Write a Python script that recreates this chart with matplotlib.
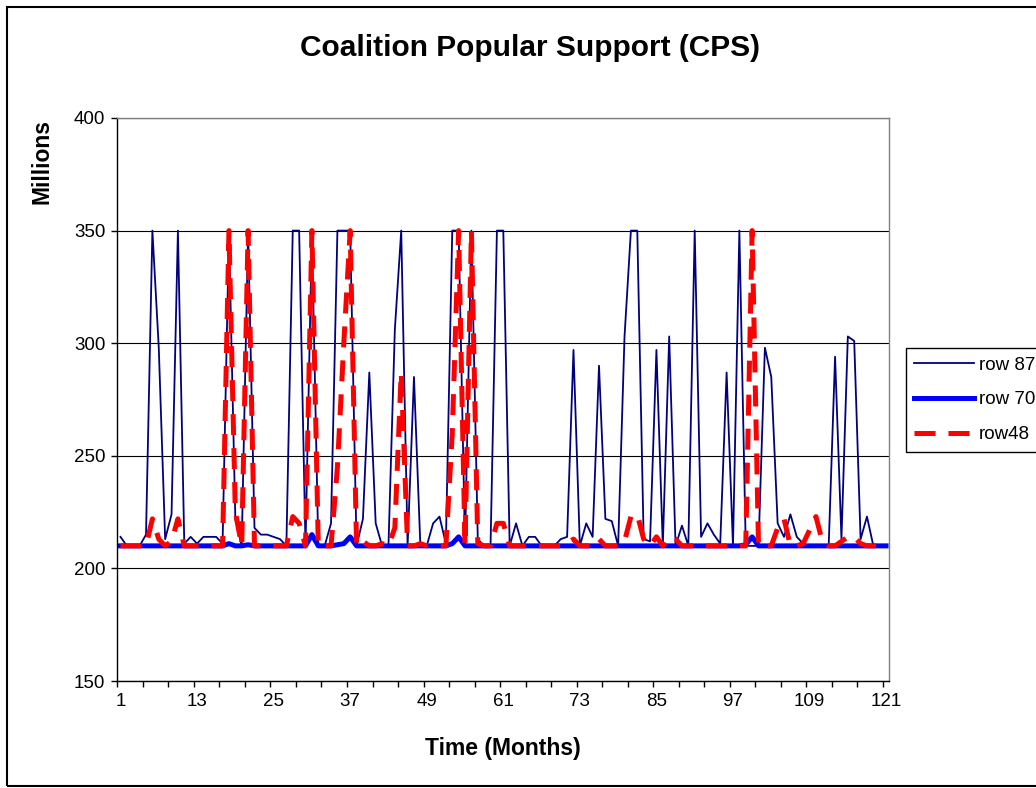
import numpy as np
import matplotlib
matplotlib.use("Agg")
import matplotlib.pyplot as plt
from matplotlib.patches import Rectangle

plt.rcParams['font.family'] = ['Liberation Sans', 'DejaVu Sans']

# Data, months 1..121
months = np.arange(1, 122)

row87 = [214, 210, 210, 210, 215, 350, 298, 213, 224, 350, 211, 214,
         211, 214, 214, 214, 211, 350, 222, 210, 350, 218, 215, 215,
         214, 213, 210, 350, 350, 210, 350, 210, 210, 220, 350, 350,
         350, 210, 222, 287, 220, 210, 210, 306, 350, 210, 285, 210,
         210, 220, 223, 211, 350, 350, 210, 350, 213, 210, 210, 350,
         350, 210, 220, 210, 214, 214, 210, 210, 210, 213, 214, 297,
         210, 220, 214, 290, 222, 221, 210, 303, 350, 350, 213, 212,
         297, 210, 303, 210, 219, 210, 350, 214, 220, 215, 211, 287,
         210, 350, 210, 210, 210, 298, 285, 220, 214, 224, 214, 211,
         210, 210, 210, 210, 294, 213, 303, 301, 213, 223, 210, 210,
         210]

row70 = [210, 210, 210, 210, 210, 210, 210, 210, 210, 210, 210, 210,
         210, 210, 210, 210, 210, 211, 210, 210, 210.5, 210, 210, 210,
         210, 210, 210, 210, 210, 210, 215, 210, 210, 210, 210.5, 211,
         214, 210, 210, 210, 210, 210, 210, 210, 210, 210, 210, 210,
         210, 210, 210, 210, 211, 214, 210, 210, 210, 210, 210, 210,
         210, 210, 210, 210, 210, 210, 210, 210, 210, 210, 210, 210,
         210, 210, 210, 210, 210, 210, 210, 210, 210, 210, 210, 210,
         210, 210, 210, 210, 210, 210, 210, 210, 210, 210, 210, 210,
         210, 210, 210.5, 214, 210, 210, 210, 210, 210, 210, 210, 210,
         210, 210, 210, 210, 210, 210, 210, 210, 210, 210, 210, 210,
         210]

row48 = [210, 210, 210, 210, 210, 222, 213, 210, 212, 222, 210, 210,
         210, 210, 210, 210, 210, 350, 225, 210, 350, 210, 210, 210,
         210, 210, 210, 223, 220, 210, 350, 210, 210, 210, 245, 300,
         350, 210, 212, 210, 210, 211, 210, 218, 287, 210, 210, 211,
         210, 210, 210, 210, 260, 350, 210, 350, 211, 210, 210, 220,
         220, 210, 210, 210, 210, 210, 210, 210, 210, 210, 211, 213,
         210, 210, 210, 213, 210, 210, 210, 212, 223, 224, 213, 210,
         214, 210, 214, 213, 210, 210, 210, 210, 210, 210, 210, 210,
         210, 210, 210, 350, 210, 210, 210, 218, 222, 210, 210, 211,
         217, 223, 212, 210, 210, 212, 214, 214, 211, 210, 210, 210,
         210]

series_names = ['row 87', 'row 70', 'row48']
y_ticks = [150, 200, 250, 300, 350, 400]
x_labels = [1, 13, 25, 37, 49, 61, 73, 85, 97, 109, 121]

W, H = 1036, 788
fig = plt.figure(figsize=(W / 100, H / 100), dpi=100)
fig.patch.set_facecolor('white')

# chart area border (runs off the right edge like the original)
fig.patches.append(Rectangle((7 / W, 1 - 786 / H), 1.2, 779 / H,
                             transform=fig.transFigure, fill=False,
                             edgecolor='black', linewidth=1.5))

x0, x1, y0, y1 = 117.3, 889.3, 118, 681
ax = fig.add_axes([x0 / W, 1 - y1 / H, (x1 - x0) / W, (y1 - y0) / H])

ax.plot(months, row87, color='#000080', lw=1.3, label=series_names[0])
ax.plot(months, row70, color='#0000FF', lw=3.6, label=series_names[1])
ax.plot(months, row48, color='#FF0000', lw=3.6, dashes=(4.2, 2.6),
        label=series_names[2])

ax.set_xlim(0.5, 121.5)
ax.set_ylim(150, 400)
ax.set_yticks(y_ticks)
ax.yaxis.grid(True, color='black', lw=0.8)
ax.set_axisbelow(True)

# tick marks between categories every 4 months, labels every 12
ax.set_xticks(np.arange(0.5, 121, 4))
ax.set_xticklabels([])
ax.set_xticks(x_labels, minor=True)
ax.set_xticklabels([str(v) for v in x_labels], minor=True)
ax.tick_params(axis='x', which='major', direction='out', length=4.5,
               width=1, color='black')
ax.tick_params(axis='x', which='minor', length=0, pad=9, labelsize=13.5)
ax.tick_params(axis='y', direction='out', length=4.5, width=1,
               labelsize=13.5, pad=4)

for s in ['left', 'bottom']:
    ax.spines[s].set_color('black')
    ax.spines[s].set_linewidth(1)
for s in ['top', 'right']:
    ax.spines[s].set_color('#808080')
    ax.spines[s].set_linewidth(1)

fig.text(530 / W, 1 - 48 / H, 'Coalition Popular Support (CPS)',
         ha='center', va='center', fontsize=21.5, fontweight='bold')
fig.text(42 / W, 1 - 162 / H, 'Millions', rotation=90,
         ha='center', va='center', fontsize=16.5, fontweight='bold')
fig.text(503 / W, 1 - 748 / H, 'Time (Months)',
         ha='center', va='center', fontsize=16.5, fontweight='bold')

handles, labels = ax.get_legend_handles_labels()
leg = fig.legend(handles, labels, loc='upper left',
                 bbox_to_anchor=(906 / W, 1 - 348 / H),
                 bbox_transform=fig.transFigure, fontsize=13.5,
                 frameon=True, fancybox=False, framealpha=1,
                 edgecolor='black', borderaxespad=0, borderpad=0.45,
                 handlelength=3.2, handletextpad=0.25, labelspacing=0.95)
leg.get_frame().set_linewidth(1)

fig.savefig('out.png', dpi=100)
